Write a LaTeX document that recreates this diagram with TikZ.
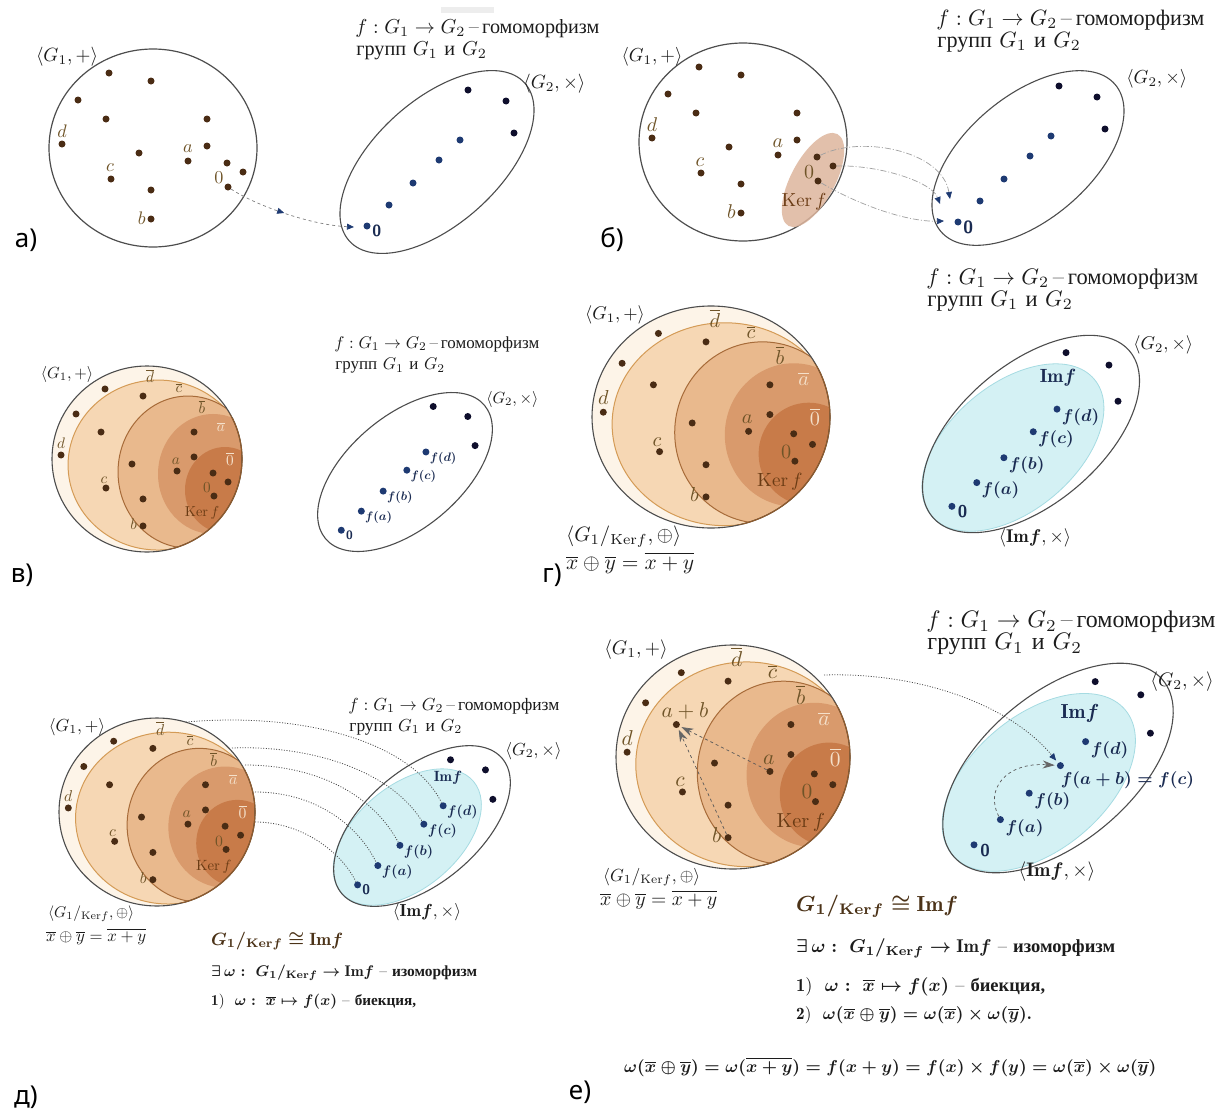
\documentclass[tikz,border=0pt]{standalone}
\usepackage{amsmath,amssymb}
\usepackage{fontspec}
\newfontfamily\cyr{Liberation Serif}
\newfontfamily\lab{Noto Sans}
\usetikzlibrary{arrows.meta,decorations.markings}
\definecolor{dotbr}{HTML}{4A2C14}
\definecolor{lblbr}{HTML}{6F5428}
\definecolor{lbll}{HTML}{F4E0CA}
\definecolor{navy}{HTML}{1E3A72}
\definecolor{ink}{HTML}{0E0E2C}
\definecolor{cream}{HTML}{FDF4E8}
\definecolor{layc}{HTML}{F6D7B4}
\definecolor{layb}{HTML}{E9B98D}
\definecolor{laya}{HTML}{D99A6C}
\definecolor{layz}{HTML}{C87B49}
\definecolor{linec}{HTML}{D49B56}
\definecolor{lineb}{HTML}{A76B39}
\definecolor{rimb}{HTML}{8E5A2C}
\definecolor{kerc}{HTML}{6A3B14}
\definecolor{imfill}{HTML}{D4F1F4}
\definecolor{imline}{HTML}{A5DBE2}
\definecolor{imtext}{HTML}{1A2B52}
\definecolor{pinkk}{HTML}{DDB59D}
\definecolor{rim}{HTML}{4D4D4D}
\definecolor{txtc}{HTML}{1C1C1C}
\definecolor{isoc}{HTML}{4B3217}

\newsavebox\rowbox
\newcommand\RowOne{$f:G_1\to G_2$\,–\,{\cyr гомоморфизм}}
\newcommand\RowTwo{{\cyr групп} $G_1$ {\cyr и} $G_2$}
% #1 width of first row, #2 ratio for group labels, #3 ratio for f-labels
\newcommand\SetK[3]{%
  \pgfmathsetmacro\kT{#1/\roww}%
  \pgfmathsetmacro\kL{0.9*\kT}%
  \pgfmathsetmacro\kF{#3*\kT}%
  \pgfmathsetmacro\kG{#2*\kT}%
  \pgfmathsetmacro\kK{0.85*\kT}}

\tikzset{
  bdot/.style={circle, fill=dotbr, inner sep=0pt, minimum size=7pt},
  ndot/.style={circle, fill=navy, inner sep=0pt, minimum size=7pt},
  kdot/.style={circle, fill=ink, inner sep=0pt, minimum size=7pt},
  txt/.style={inner sep=0pt, text=txtc, scale=\kT, anchor=west},
  lbl/.style={inner sep=0pt, text=lblbr, scale=\kL},
  lbllight/.style={inner sep=0pt, text=lbll, scale=\kL},
  kerl/.style={inner sep=0pt, text=kerc, scale=\kK},
  glbl/.style={inner sep=0pt, text=txtc, scale=\kG},
  iml/.style={inner sep=0pt, text=imtext, scale=\kK},
  flbl/.style={inner sep=0pt, text=imtext, scale=\kF, anchor=west},
  zl/.style={inner sep=0pt, text=imtext, scale=\kF, anchor=west, font=\sffamily\bfseries},
  plab/.style={inner sep=0pt, text=black, font=\lab\fontsize{26}{30}\selectfont},
  btxt/.style={inner sep=0pt, text=txtc, anchor=west},
  ddot/.style={gray!75, line width=0.7pt, dash pattern=on 6pt off 2pt on 1pt off 2pt},
  dotl/.style={draw=black!70, line width=0.8pt, dash pattern=on 1pt off 1.6pt},
  navytip/.style={-{Triangle[length=7pt,width=6pt,color=navy]}},
  graytip/.style={-{Stealth[length=12pt,width=8pt,color=black!60]}}
}

\newcommand\GOneCircle{\draw[rim, line width=1.2pt] (153,148) ellipse [x radius=104, y radius=99];}
\newcommand\GOneADots[1]{%
  \node[bdot] (#1-1) at (109,73) {};
  \node[bdot] (#1-2) at (151,81) {};
  \node[bdot] (#1-3) at (78,100) {};
  \node[bdot] (#1-4) at (106,119) {};
  \node[bdot] (#1-5) at (207,119) {};
  \node[bdot] (#1-d) at (62,144) {};
  \node[bdot] (#1-7) at (207,146) {};
  \node[bdot] (#1-8) at (139,153) {};
  \node[bdot] (#1-a) at (188,161) {};
  \node[bdot] (#1-10) at (227,163) {};
  \node[bdot] (#1-11) at (243,172) {};
  \node[bdot] (#1-c) at (111,179) {};
  \node[bdot] (#1-0) at (228,187) {};
  \node[bdot] (#1-14) at (151,190) {};
  \node[bdot] (#1-b) at (151,219) {};
  \node[lbl] (#1-ld) at (62,131) {$d$};
  \node[lbl] (#1-la) at (188,149) {$a$};
  \node[lbl] (#1-lc) at (110,168) {$c$};
  \node[lbl] (#1-l0) at (219,178) {$0$};
  \node[lbl, anchor=east] (#1-lb) at (146,218) {$b$};
}
\newcommand\SphereBody{%
  \fill[cream] (0,0) circle [radius=1];
  \begin{scope}
    \clip (0,0) circle [radius=1];
    \filldraw[fill=layc, draw=linec, line width=1pt] (0.116,0.065) ellipse [x radius=0.947, y radius=0.914];
    \filldraw[fill=layb, draw=lineb, line width=1pt] (0.432,0.140) ellipse [x radius=0.737, y radius=0.817];
    \fill[laya] (0.695,0.161) ellipse [x radius=0.579, y radius=0.645];
    \fill[layz] (0.821,0.333) ellipse [x radius=0.421, y radius=0.462];
  \end{scope}
  \draw[rim, line width=1.1pt] (0,0) circle [radius=1];
  \begin{scope}
    \clip (0.116,0.065) ellipse [x radius=0.947, y radius=0.914];
    \draw[rimb, line width=1.2pt] (0,0) circle [radius=1];
  \end{scope}
}
\newcommand\SphereDots[1]{%
  \node[bdot] (#1-1) at (-0.442,-0.753) {};
  \node[bdot] (#1-2) at (-0.042,-0.677) {};
  \node[bdot] (#1-3) at (-0.747,-0.484) {};
  \node[bdot] (#1-4) at (-0.484,-0.290) {};
  \node[bdot] (#1-5) at (0.495,-0.290) {};
  \node[bdot] (#1-d) at (-0.905,-0.043) {};
  \node[bdot] (#1-7) at (0.495,-0.022) {};
  \node[bdot] (#1-8) at (-0.158,0.054) {};
  \node[bdot] (#1-a) at (0.316,0.129) {};
  \node[bdot] (#1-10) at (0.695,0.151) {};
  \node[bdot] (#1-11) at (0.853,0.247) {};
  \node[bdot] (#1-c) at (-0.432,0.312) {};
  \node[bdot] (#1-0) at (0.705,0.398) {};
  \node[bdot] (#1-14) at (-0.042,0.430) {};
  \node[bdot] (#1-b) at (-0.042,0.720) {};
  \node[lbl] (#1-ld) at (-0.905,-0.172) {$d$};
  \node[lbl] (#1-la) at (0.305,0.022) {$a$};
  \node[lbl] (#1-lc) at (-0.453,0.226) {$c$};
  \node[lbl] (#1-l0) at (0.632,0.312) {$0$};
  \node[lbl] (#1-lb) at (-0.140,0.699) {$b$};
  \node[lbl] (#1-ldb) at (0.032,-0.892) {$\overline{d}$};
  \node[lbl] (#1-lcb) at (0.337,-0.763) {$\overline{c}$};
  \node[lbl] (#1-lbb) at (0.579,-0.559) {$\overline{b}$};
  \node[lbllight] (#1-lab) at (0.779,-0.344) {$\overline{a}$};
  \node[lbllight] (#1-l0b) at (0.874,0) {$\overline{0}$};
  \node[kerl] (#1-ker) at (0.579,0.581) {$\mathrm{Ker}\,f$};
}
\newcommand\GTwoOutline{\draw[rim, line width=1.1pt, rotate=40] (0,0) ellipse [x radius=114, y radius=62];}
\newcommand\GTwoIm{\filldraw[fill=imfill, draw=imline, line width=0.8pt, shift={(-16,12)}, rotate=40] (0,0) ellipse [x radius=94, y radius=56];}
\newcommand\GTwoDots[1]{%
  \node[kdot] (#1-k1) at (31,-72) {};
  \node[kdot] (#1-k2) at (69,-61) {};
  \node[kdot] (#1-k3) at (77,-29) {};
  \node[ndot] (#1-fd) at (23,-22) {};
  \node[ndot] (#1-fc) at (2,-2) {};
  \node[ndot] (#1-fb) at (-24,21) {};
  \node[ndot] (#1-fa) at (-48,43) {};
  \node[ndot] (#1-fz) at (-70,64) {};
  \node[zl] (#1-lz) at (-65,69) {0};
}
\newcommand\FD{$\boldsymbol{f(d)}$}
\newcommand\FC{$\boldsymbol{f(c)}$}
\newcommand\FB{$\boldsymbol{f(b)}$}
\newcommand\FA{$\boldsymbol{f(a)}$}
\newcommand\FABC{$\boldsymbol{f(a+b)=f(c)}$}
\newcommand\GTwoF[1]{%
  \node[flbl] (#1-lfd) at (27,-15) {\FD};
  \node[flbl] (#1-lfb) at (-20,28) {\FB};
  \node[flbl] (#1-lfa) at (-44,50) {\FA};
}
\newcommand\GTwoLbl{$\langle G_2,\times\rangle$}
\newcommand\ImLbl{$\mathbf{Im}\boldsymbol{f}$}
\newcommand\ImPair{$\langle\mathbf{Im}\boldsymbol{f},\times\rangle$}
\newcommand\QuotLbl{$\langle G_1/_{\mathrm{Ker}f},\oplus\rangle$}
\newcommand\QuotOp{$\overline{x}\oplus\overline{y}=\overline{x+y}$}

\begin{document}
\sbox\rowbox{\RowOne}%
\pgfmathsetmacro\roww{\the\wd\rowbox}%
\begin{tikzpicture}[x=1pt,y=-1pt]
\useasboundingbox (0,0) rectangle (1227,1111);
\fill[white] (0,0) rectangle (1227,1111);

% ===== panel a =====
\SetK{244}{0.95}{0.8}
\fill[gray!14] (441,7) rectangle (494,13);
\GOneCircle
\GOneADots{a}
\node[glbl] (a-G1) at (67,57) {$\langle G_1,+\rangle$};
\begin{scope}[shift={(437,162)}]
  \draw[rim, line width=1.1pt, rotate=42] (0,0) ellipse [x radius=118, y radius=62];
  \GTwoDots{aG}
\end{scope}
\node[glbl, anchor=west] (a-G2) at (523,84) {\GTwoLbl};
\node[txt] (a-t1) at (355,29) {\RowOne};
\node[txt] (a-t2) at (356,51) {\RowTwo};
\coordinate (a-E) at (354,227);
\draw[gray, dashed, line width=0.7pt, navytip, postaction={decorate},
  decoration={markings, mark=at position 0.45 with {\arrow{Triangle[length=7pt,width=6pt,color=navy]}}}]
  (a-0) .. controls (255,205) and (310,225) .. (a-E);
\node[plab] (pa) at (26,240) {а)};

% ===== panel b =====
\SetK{268}{0.85}{0.8}
\begin{scope}[shift={(590,-6)}]
  \GOneCircle
  \fill[pinkk, opacity=0.85, shift={(223,186)}, rotate=62] (0,0) ellipse [x radius=52, y radius=22];
  \GOneADots{b}
  \node[kerl] (b-ker) at (214,208) {$\mathrm{Ker}\,f$};
\end{scope}
\node[glbl] (b-G1) at (652,57) {$\langle G_1,+\rangle$};
\begin{scope}[shift={(1028,158)}]
  \GTwoOutline
  \GTwoDots{bG}
\end{scope}
\node[glbl, anchor=west] (b-G2) at (1126,79) {\GTwoLbl};
\node[txt] (b-t1) at (936,20) {\RowOne};
\node[txt] (b-t2) at (937,42) {\RowTwo};
\coordinate (b-A) at (950,199);
\coordinate (b-B) at (940,204);
\coordinate (b-C) at (944,221);
\draw[ddot, navytip] (b-10) .. controls (860,135) and (942,150) .. (b-A);
\draw[ddot, navytip] (b-11) .. controls (880,165) and (932,182) .. (b-B);
\draw[ddot, navytip] (b-0) .. controls (855,203) and (905,222) .. (b-C);
\node[plab] (pb) at (612,240) {б)};

% ===== panel v =====
\SetK{205}{0.95}{0.72}
\begin{scope}[shift={(147,459)}, xscale=95, yscale=93]
  \SphereBody
  \SphereDots{v}
\end{scope}
\node[glbl] (v-G1) at (67,374) {$\langle G_1,+\rangle$};
\begin{scope}[shift={(405,472)}, scale=0.91]
  \GTwoOutline
  \GTwoDots{vG}
  \GTwoF{vG}
  \node[flbl] (vG-lfc) at (6,5) {\FC};
\end{scope}
\node[glbl, anchor=west] (v-G2) at (486,399) {\GTwoLbl};
\node[txt] (v-t1) at (334,344) {\RowOne};
\node[txt] (v-t2) at (335,366) {\RowTwo};
\node[plab] (pv) at (22,575) {в)};

% ===== panel g =====
\SetK{272}{0.82}{0.76}
\begin{scope}[shift={(711,417)}, xscale=119, yscale=111]
  \SphereBody
  \SphereDots{g}
\end{scope}
\node[glbl] (g-G1) at (615,315) {$\langle G_1,+\rangle$};
\begin{scope}[shift={(1031,434)}, scale=1.13]
  \GTwoIm
  \GTwoOutline
  \GTwoDots{gG}
  \GTwoF{gG}
  \node[flbl] (gG-lfc) at (6,5) {\FC};
\end{scope}
\node[glbl, anchor=west] (g-G2) at (1133,345) {\GTwoLbl};
\node[iml] (g-im) at (1058,378) {\ImLbl};
\node[glbl] (g-imx) at (1035,538) {\ImPair};
\node[txt] (g-t1) at (926,279) {\RowOne};
\node[txt] (g-t2) at (927,301) {\RowTwo};
\node[btxt] (g-q1) at (566,537) {\resizebox{115pt}{!}{\QuotLbl}};
\node[btxt] (g-q2) at (566,563) {\resizebox{128pt}{!}{\QuotOp}};
\node[plab] (pg) at (552,575) {г)};

% ===== panel d =====
\SetK{211}{1.0}{0.8}
\begin{scope}[shift={(157,812)}, xscale=98, yscale=94]
  \SphereBody
  \SphereDots{d}
\end{scope}
\node[glbl] (d-G1) at (77,727) {$\langle G_1,+\rangle$};
\begin{scope}[shift={(422,826)}, scale=0.92]
  \GTwoIm
  \GTwoOutline
  \GTwoDots{dG}
  \GTwoF{dG}
  \node[flbl] (dG-lfc) at (6,5) {\FC};
\end{scope}
\node[glbl, anchor=west] (d-G2) at (505,751) {\GTwoLbl};
\node[iml] (d-im) at (448,778) {\ImLbl};
\node[glbl] (d-imx) at (427,912) {\ImPair};
\node[txt] (d-t1) at (348,706) {\RowOne};
\node[txt] (d-t2) at (349,727) {\RowTwo};
\coordinate (d-s1) at (186,722);
\coordinate (d-s2) at (232,748);
\coordinate (d-s3) at (245,765);
\coordinate (d-s4) at (255,792);
\coordinate (d-s5) at (255,822);
\draw[dotl] (d-s1) .. controls (300,712) and (410,740) .. (dG-fd);
\draw[dotl] (d-s2) .. controls (310,745) and (390,770) .. (dG-fc);
\draw[dotl] (d-s3) .. controls (310,765) and (370,790) .. (dG-fb);
\draw[dotl] (d-s4) .. controls (310,792) and (355,820) .. (dG-fa);
\draw[dotl] (d-s5) .. controls (300,822) and (340,850) .. (dG-fz);
\node[btxt] (d-q1) at (48,914) {\resizebox{86pt}{!}{\QuotLbl}};
\node[btxt] (d-q2) at (46,937) {\resizebox{100pt}{!}{\QuotOp}};
\node[btxt, text=isoc] (d-iso) at (211,941) {\resizebox{132pt}{!}{$\boldsymbol{G_1/_{\mathbf{Ker}f}\cong}\mathbf{Im}\boldsymbol{f}$}};
\node[btxt] (d-ex) at (211,973) {\resizebox{266pt}{!}{$\boldsymbol{\exists\,\omega:\ G_1/_{\mathbf{Ker}f}\to}\mathbf{Im}\boldsymbol{f}$\ –\ {\cyr\bfseries изоморфизм}}};
\node[btxt] (d-one) at (211,1002) {\resizebox{205pt}{!}{$\mathbf{1)}\ \ \boldsymbol{\omega:\ \overline{x}\mapsto f(x)}$\ –\ {\cyr\bfseries биекция,}}};
\node[plab] (pd) at (26,1097) {д)};

% ===== panel e =====
\SetK{289}{0.82}{0.72}
\begin{scope}[shift={(733,757)}, xscale=117, yscale=112]
  \SphereBody
  \SphereDots{e}
  \node[lbl] (e-lab) at (-0.41,-0.41) {$a+b$};
\end{scope}
\node[glbl] (e-G1) at (636,650) {$\langle G_1,+\rangle$};
\draw[black!65, dashed, line width=0.7pt, graytip, shorten >=2pt] (e-a) -- (e-4);
\draw[black!65, dashed, line width=0.7pt, graytip, shorten >=2pt] (e-b) -- (e-4);
\begin{scope}[shift={(1058,768)}, scale=1.2]
  \GTwoIm
  \GTwoOutline
  \GTwoDots{eG}
  \GTwoF{eG}
  \node[flbl] (eG-lfc) at (2,10) {\FABC};
\end{scope}
\node[glbl, anchor=west] (e-G2) at (1150,682) {\GTwoLbl};
\node[iml] (e-im) at (1080,713) {\ImLbl};
\node[glbl] (e-imx) at (1057,872) {\ImPair};
\node[txt] (e-t1) at (926,622) {\RowOne};
\node[txt] (e-t2) at (927,644) {\RowTwo};
\coordinate (e-s) at (824,675);
\draw[dotl, navytip, shorten >=3pt] (e-s) .. controls (920,672) and (1010,705) .. (eG-fc);
\draw[black!65, dashed, line width=0.7pt, graytip, shorten >=2pt] (eG-fa) .. controls (985,790) and (1005,762) .. (eG-fc);
\node[btxt] (e-q1) at (603,877) {\resizebox{97pt}{!}{\QuotLbl}};
\node[btxt] (e-q2) at (600,900) {\resizebox{117pt}{!}{\QuotOp}};
\node[btxt, text=isoc] (e-iso) at (796,906) {\resizebox{162pt}{!}{$\boldsymbol{G_1/_{\mathbf{Ker}f}\cong}\mathbf{Im}\boldsymbol{f}$}};
\node[btxt] (e-ex) at (796,948) {\resizebox{319pt}{!}{$\boldsymbol{\exists\,\omega:\ G_1/_{\mathbf{Ker}f}\to}\mathbf{Im}\boldsymbol{f}$\ –\ {\cyr\bfseries изоморфизм}}};
\node[btxt] (e-one) at (796,987) {\resizebox{249pt}{!}{$\mathbf{1)}\ \ \boldsymbol{\omega:\ \overline{x}\mapsto f(x)}$\ –\ {\cyr\bfseries биекция,}}};
\node[btxt] (e-two) at (796,1015) {\resizebox{236pt}{!}{$\mathbf{2)}\ \ \boldsymbol{\omega(\overline{x}\oplus\overline{y})=\omega(\overline{x})\times\omega(\overline{y}).}$}};
\node[btxt] (e-long) at (624,1067) {\resizebox{532pt}{!}{$\boldsymbol{\omega(\overline{x}\oplus\overline{y})=\omega(\overline{x+y})=f(x+y)=f(x)\times f(y)=\omega(\overline{x})\times\omega(\overline{y})}$}};
\node[plab] (pe) at (580,1092) {е)};
\end{tikzpicture}
\end{document}
